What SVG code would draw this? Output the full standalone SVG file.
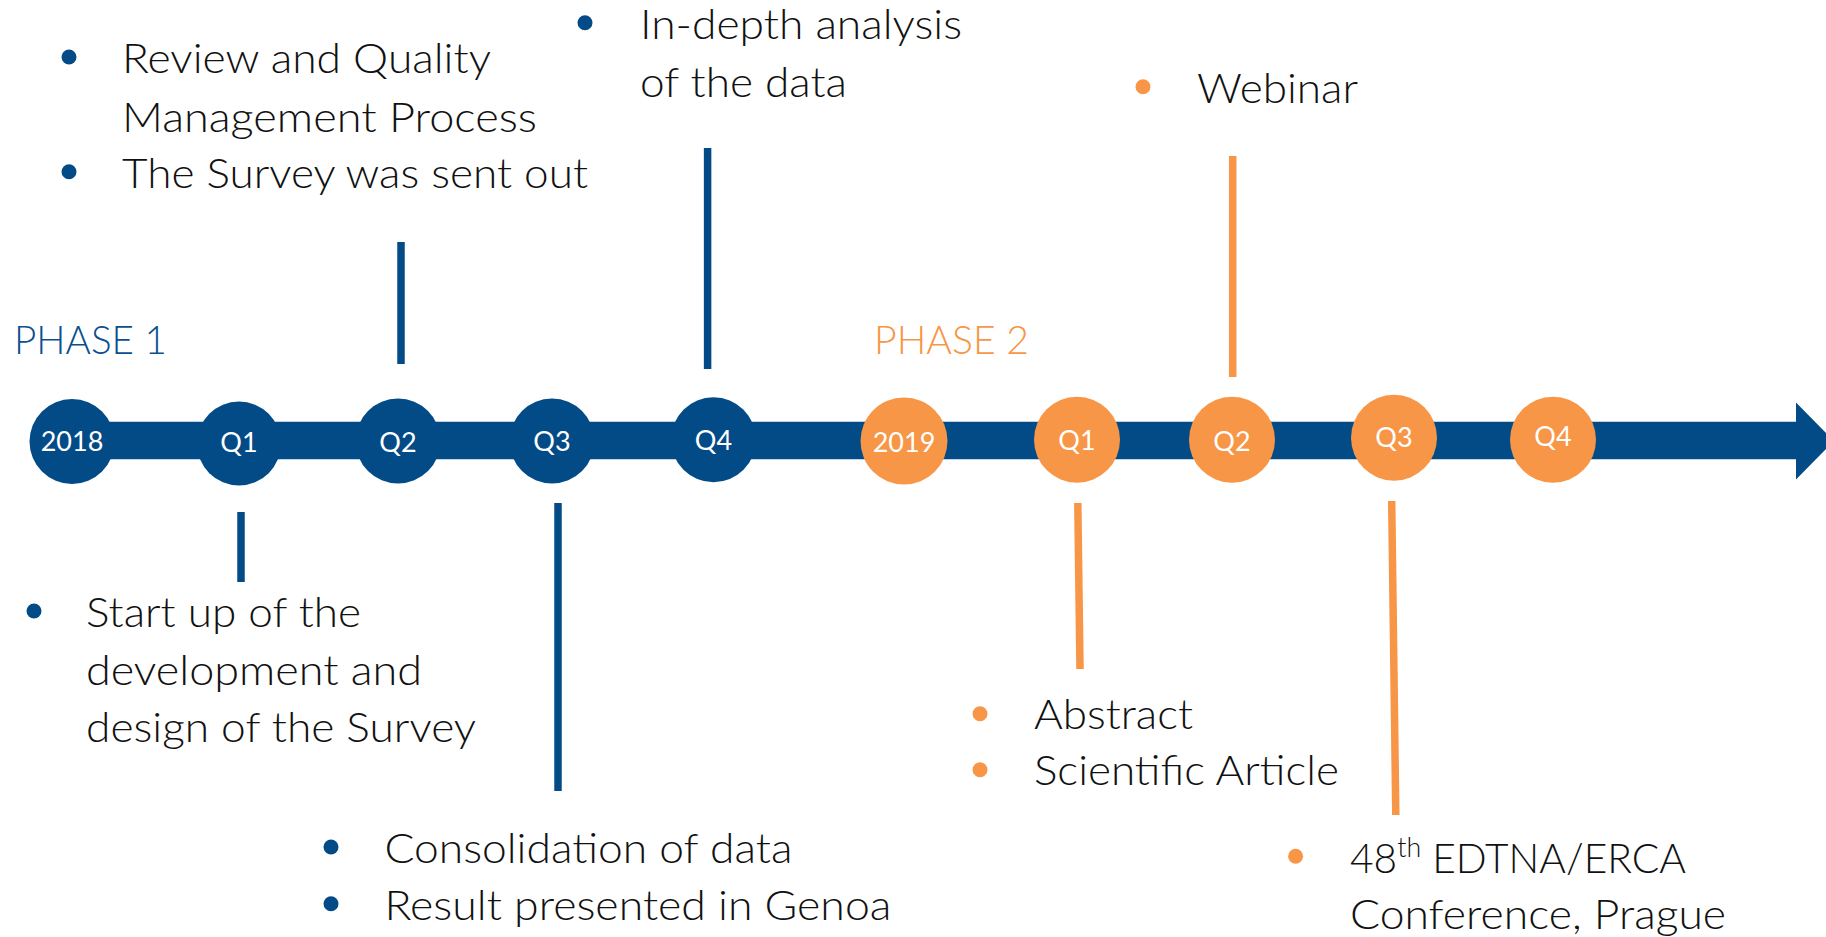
<svg xmlns="http://www.w3.org/2000/svg" width="1826" height="937" viewBox="0 0 1826 937">
<style>
.t{font-family:Lato,"Liberation Sans",sans-serif;font-size:41px;font-weight:300;fill:#111;}
.c{font-family:Lato,"Liberation Sans",sans-serif;font-size:27px;fill:#fff;text-anchor:middle;}
.ph{font-family:Lato,"Liberation Sans",sans-serif;font-size:40px;font-weight:300;}
.b{fill:#034B87;}
.o{fill:#F79646;}
.lb{stroke:#034B87;stroke-width:7.5;fill:none;}
.lo{stroke:#F79646;stroke-width:7.5;fill:none;}
</style>
<rect width="1826" height="937" fill="#fff"/>
<g id="timeline-bar">
<polygon class="b" points="60,421.7 1796,421.7 1796,402.5 1834,441 1796,479.5 1796,459.3 60,459.3"/>
</g>
<g id="connectors">
<line class="lb" x1="241" y1="512" x2="241" y2="582"/>
<line class="lb" x1="401" y1="242" x2="401" y2="364"/>
<line class="lb" x1="558" y1="503" x2="558" y2="791"/>
<line class="lb" x1="707.6" y1="148" x2="707.6" y2="369"/>
<line class="lo" x1="1077.8" y1="503" x2="1080" y2="669"/>
<line class="lo" x1="1232.7" y1="156" x2="1232.7" y2="377"/>
<line class="lo" x1="1391.7" y1="501" x2="1395.8" y2="815"/>
</g>
<g id="n-2018"><circle class="b" cx="72" cy="441.5" r="42.5"/><text class="c" x="72" y="451">2018</text></g>
<g id="n-2018-q1"><circle class="b" cx="239" cy="443.5" r="42"/><text class="c" x="239" y="452">Q1</text></g>
<g id="n-2018-q2"><circle class="b" cx="398" cy="441" r="42.5"/><text class="c" x="398" y="452">Q2</text></g>
<g id="n-2018-q3"><circle class="b" cx="552" cy="441" r="42.5"/><text class="c" x="552" y="451">Q3</text></g>
<g id="n-2018-q4"><circle class="b" cx="713.5" cy="439.7" r="42.5"/><text class="c" x="713.5" y="450">Q4</text></g>
<g id="n-2019"><circle class="o" cx="904" cy="441" r="43.5"/><text class="c" x="904" y="451.5">2019</text></g>
<g id="n-2019-q1"><circle class="o" cx="1077" cy="439.7" r="43"/><text class="c" x="1077" y="450">Q1</text></g>
<g id="n-2019-q2"><circle class="o" cx="1232" cy="439.7" r="43"/><text class="c" x="1232" y="451">Q2</text></g>
<g id="n-2019-q3"><circle class="o" cx="1394" cy="437.7" r="43"/><text class="c" x="1394" y="447">Q3</text></g>
<g id="n-2019-q4"><circle class="o" cx="1553" cy="439.7" r="43"/><text class="c" x="1553" y="446">Q4</text></g>
<g id="phase1"><text class="ph" x="14" y="353.5" fill="#0B4F8F" textLength="153" lengthAdjust="spacingAndGlyphs">PHASE 1</text></g>
<g id="phase2"><text class="ph" x="874" y="353.5" fill="#F79646" textLength="155" lengthAdjust="spacingAndGlyphs">PHASE 2</text></g>
<g id="label-q2-2018">
<circle class="b" cx="69" cy="57" r="7.5"/>
<text class="t" x="122" y="73.3" textLength="369" lengthAdjust="spacingAndGlyphs">Review and Quality</text>
<text class="t" x="122" y="131.7" textLength="415" lengthAdjust="spacingAndGlyphs">Management Process</text>
<circle class="b" cx="69" cy="171.7" r="7.5"/>
<text class="t" x="122" y="188.3" textLength="466" lengthAdjust="spacingAndGlyphs">The Survey was sent out</text>
</g>
<g id="label-q4-2018">
<circle class="b" cx="585" cy="22.7" r="7.5"/>
<text class="t" x="640" y="39.3" textLength="322" lengthAdjust="spacingAndGlyphs">In-depth analysis</text>
<text class="t" x="640" y="96.7" textLength="207" lengthAdjust="spacingAndGlyphs">of the data</text>
</g>
<g id="label-q1-2018">
<circle class="b" cx="34" cy="611" r="7.5"/>
<text class="t" x="86" y="627" textLength="275" lengthAdjust="spacingAndGlyphs">Start up of the</text>
<text class="t" x="86" y="685.3" textLength="336" lengthAdjust="spacingAndGlyphs">development and</text>
<text class="t" x="86" y="742" textLength="390" lengthAdjust="spacingAndGlyphs">design of the Survey</text>
</g>
<g id="label-q3-2018">
<circle class="b" cx="331" cy="847" r="7.5"/>
<text class="t" x="384.4" y="863" textLength="408" lengthAdjust="spacingAndGlyphs">Consolidation of data</text>
<circle class="b" cx="331" cy="903.7" r="7.5"/>
<text class="t" x="384.4" y="919.7" textLength="507" lengthAdjust="spacingAndGlyphs">Result presented in Genoa</text>
</g>
<g id="label-q2-2019">
<circle class="o" cx="1143" cy="86.7" r="7.5"/>
<text class="t" x="1197" y="103.3" textLength="161" lengthAdjust="spacingAndGlyphs">Webinar</text>
</g>
<g id="label-q1-2019">
<circle class="o" cx="980" cy="713.7" r="7.5"/>
<text class="t" x="1034" y="728.7" textLength="159" lengthAdjust="spacingAndGlyphs">Abstract</text>
<circle class="o" cx="980" cy="769.7" r="7.5"/>
<text class="t" x="1034" y="785.3" textLength="305" lengthAdjust="spacingAndGlyphs">Scientific Article</text>
</g>
<g id="label-q3-2019">
<circle class="o" cx="1295.6" cy="856.3" r="7.5"/>
<text class="t" x="1350" y="873" textLength="336" lengthAdjust="spacingAndGlyphs">48<tspan dy="-16" style="font-size:27px">th</tspan><tspan dy="16"> EDTNA/ERCA</tspan></text>
<text class="t" x="1350" y="928.7" textLength="376" lengthAdjust="spacingAndGlyphs">Conference, Prague</text>
</g>
</svg>
